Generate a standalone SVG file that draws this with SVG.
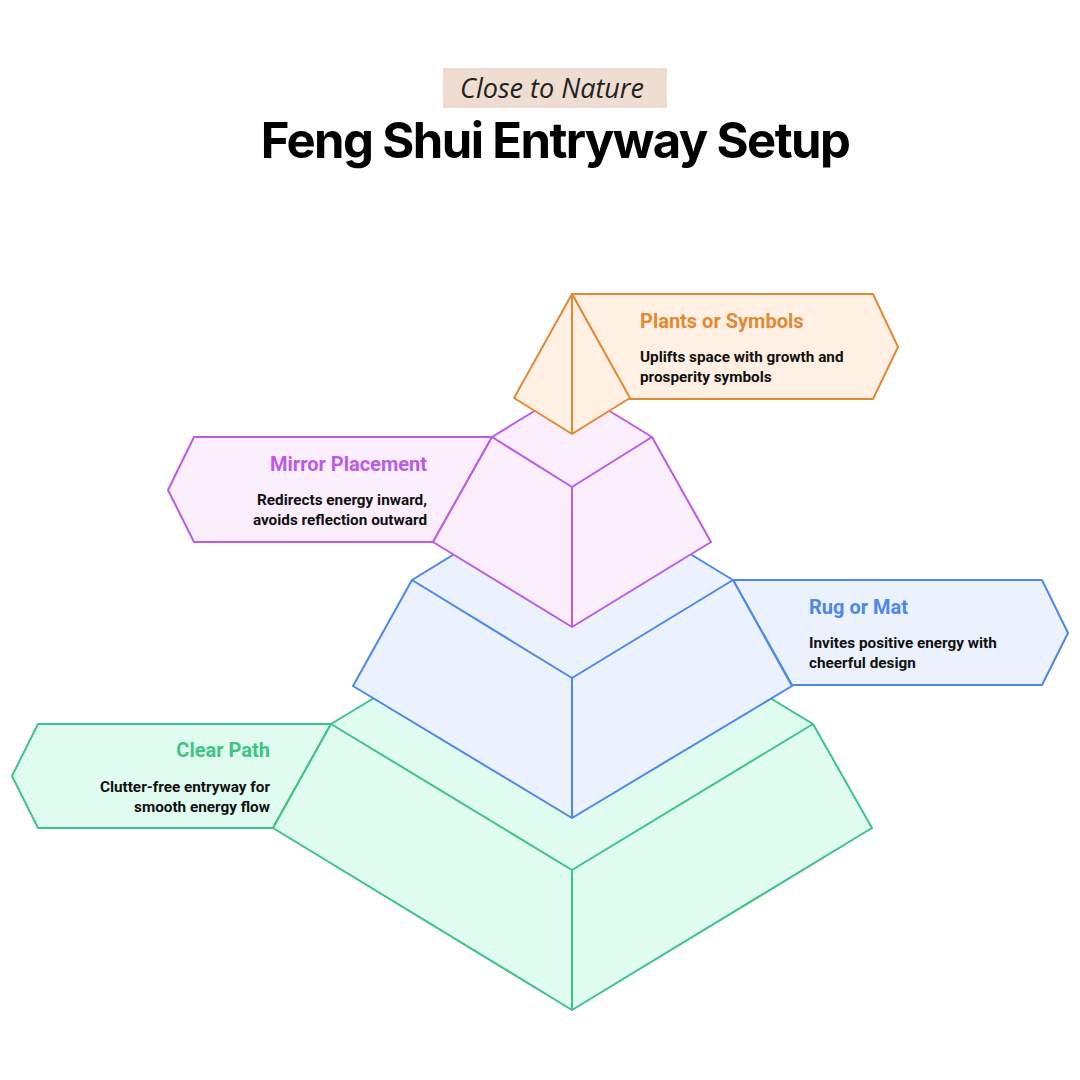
<svg xmlns="http://www.w3.org/2000/svg" width="1080" height="1080" viewBox="0 0 1080 1080">
<style>
.g{fill:#E0FBEF;stroke:#3EC484}.b{fill:#EBF2FD;stroke:#4D88E8}.p{fill:#FAEEFC;stroke:#BB5CE6}.o{fill:#FFF0E3;stroke:#E08A35}
path,polygon,line{stroke-width:2;stroke-linejoin:round}
text{font-family:Roboto,"Liberation Sans",sans-serif;font-weight:bold}
.h{font-size:20px}.d{font-size:15.3px;fill:#111}
</style>
<rect width="1080" height="1080" fill="#fff"/>
<rect x="443" y="68" width="224" height="40" fill="#EEDDD0"/>
<text x="552" y="98" text-anchor="middle" style="font-family:'Open Sans',sans-serif;font-style:italic;font-weight:normal;font-size:27px" fill="#222">Close to Nature</text>
<text x="555" y="158" text-anchor="middle" style="font-family:Inter,sans-serif;font-weight:bold;font-size:49px;letter-spacing:-1.6px" fill="#000">Feng Shui Entryway Setup</text>
<g id="clear-path">
<polygon class="g" points="331,724 38,724 12,776 38,828 273,828"/>
<polygon class="g" points="331,724 572,578 813,724 872,828 572,1010 273,828"/>
<path class="g" d="M331,724 L572,870 L813,724 M572,870 L572,1010" fill="none"/>
<text class="h" x="270" y="757" text-anchor="end" fill="#3EC484">Clear Path</text>
<text class="d" x="270" y="792" text-anchor="end">Clutter-free entryway for</text>
<text class="d" x="270" y="812" text-anchor="end">smooth energy flow</text>
</g>
<g id="rug-or-mat">
<polygon class="b" points="733,580 1042,580 1068,633 1042,685 792,685"/>
<polygon class="b" points="412,580 572,482 733,580 792,686 572,818 353,686"/>
<path class="b" d="M412,580 L572,678 L733,580 M572,678 L572,818" fill="none"/>
<text class="h" x="809" y="614" fill="#4D88E8">Rug or Mat</text>
<text class="d" x="809" y="648">Invites positive energy with</text>
<text class="d" x="809" y="668">cheerful design</text>
</g>
<g id="mirror-placement">
<polygon class="p" points="492,437 194,437 168,490 194,542 433,542"/>
<polygon class="p" points="492,437 572,388 652,437 711,542 572,627 433,542"/>
<path class="p" d="M492,437 L572,487 L652,437 M572,487 L572,627" fill="none"/>
<text class="h" x="427" y="471" text-anchor="end" fill="#BB5CE6">Mirror Placement</text>
<text class="d" x="427" y="505" text-anchor="end">Redirects energy inward,</text>
<text class="d" x="427" y="525" text-anchor="end">avoids reflection outward</text>
</g>
<g id="plants-or-symbols">
<polygon class="o" points="572,294 873,294 898,347 873,399 630,399"/>
<polygon class="o" points="572,294 630,398 572,434 514,398"/>
<line class="o" x1="572" y1="294" x2="572" y2="434"/>
<text class="h" x="640" y="328" fill="#E08A35">Plants or Symbols</text>
<text class="d" x="640" y="362">Uplifts space with growth and</text>
<text class="d" x="640" y="382">prosperity symbols</text>
</g>
<g id="connectors"/>
</svg>
